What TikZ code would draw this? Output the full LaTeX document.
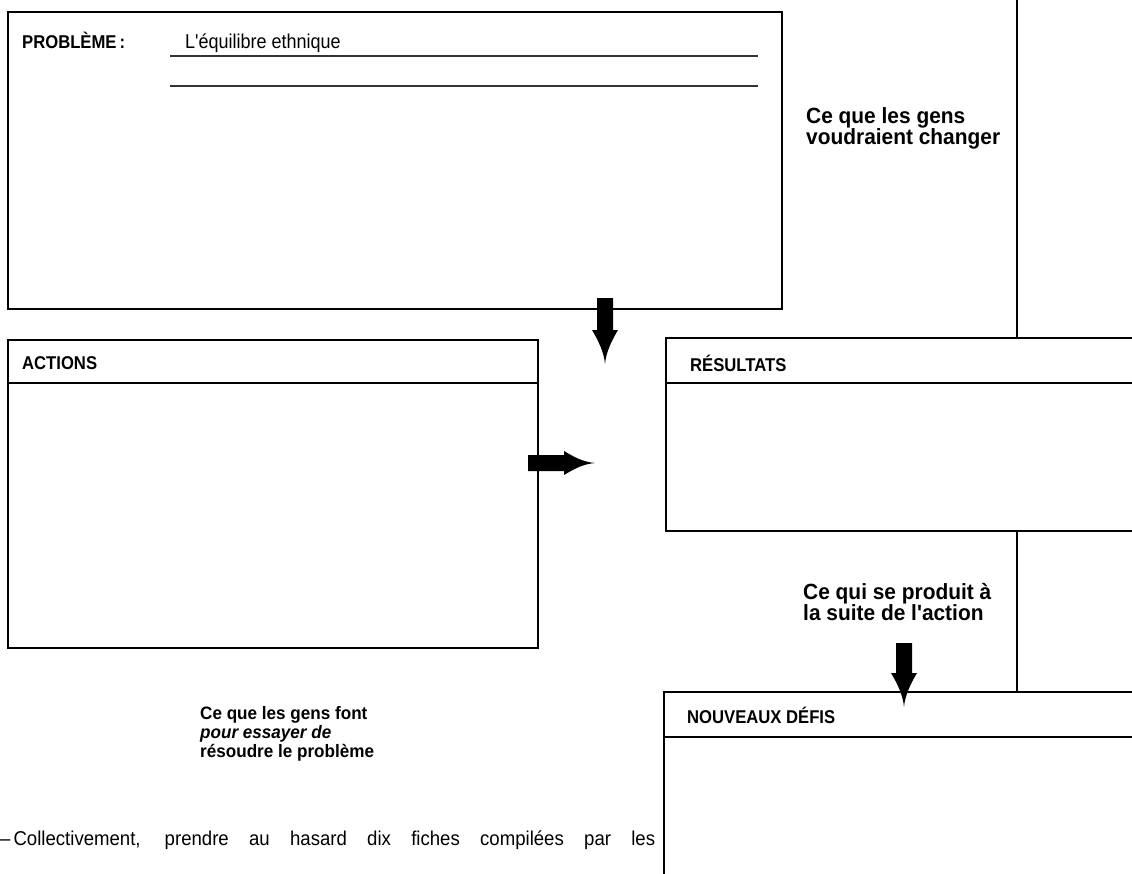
\documentclass[tikz,border=0pt]{standalone}
\usepackage{fontspec}
\setmainfont{Liberation Sans}
\newfontfamily\cond[FakeStretch=0.9]{Liberation Sans}
\newfontfamily\condn[FakeStretch=0.95]{Liberation Sans}
\newfontfamily\condb[FakeStretch=0.93]{Liberation Sans}
\begin{document}
\begin{tikzpicture}[x=1pt,y=-1pt,
  box/.style={draw=black, line width=2.8pt, rectangle, inner sep=0pt, outer sep=0pt, anchor=north west},
  hrule/.style={line width=2pt},
  thinrule/.style={line width=1.3pt, draw=black!80},
  vline/.style={line width=1.3pt},
  hdr/.style={font=\cond\bfseries\fontsize{18.5}{20}\selectfont, anchor=base west, inner sep=0pt},
  fillin/.style={font=\cond\fontsize{20}{22}\selectfont, anchor=base west, inner sep=0pt},
  note/.style={font=\condn\bfseries\fontsize{22}{21.5}\selectfont, anchor=north west, inner sep=0pt, align=left},
  smallnote/.style={font=\condn\bfseries\fontsize{18}{19}\selectfont, anchor=north west, inner sep=0pt, align=left},
  body/.style={font=\condb\fontsize{20}{22}\selectfont, anchor=base west, inner sep=0pt},
  blockarrow/.style={fill=black, draw=none}]
\useasboundingbox (0,0) rectangle (1132,873);
\clip (0,0) rectangle (1132,873);

% boxes
\node[box, minimum width=774pt, minimum height=297pt] (prob) at (8,12) {};
\node[box, minimum width=530pt, minimum height=308pt] (actions) at (8,340) {};
\node[box, minimum width=490pt, minimum height=193pt] (results) at (666,338) {};
\node[box, minimum width=490pt, minimum height=230pt] (defis) at (664,692) {};

% header dividers
\draw[hrule] (actions.north west) ++(0,43) coordinate (ah) -- (ah -| actions.east);
\draw[hrule] (results.north west) ++(0,45) coordinate (rh) -- (rh -| results.east);
\draw[hrule] (defis.north west) ++(0,45) coordinate (dh) -- (dh -| defis.east);

% problem lines
\coordinate (pl1) at (170,56);
\coordinate (pl2) at (170,86);
\draw[thinrule] (pl1) -- ++(588,0);
\draw[thinrule] (pl2) -- ++(588,0);

% vertical thin line
\coordinate (vtop) at (1017,0);
\draw[vline] (vtop) -- (vtop |- results.north);
\draw[vline] (vtop |- results.south) -- (vtop |- defis.north);

% labels
\node[hdr] (lprob) at (22,48) {PROBLÈME\kern3pt:};
\node[fillin] (lequi) at (185,48) {L'équilibre ethnique};
\node[hdr] (lact) at (22,369) {ACTIONS};
\node[hdr] (lres) at (690,371) {RÉSULTATS};
\node[hdr] (ldef) at (687,723) {NOUVEAUX DÉFIS};

% notes
\node[note] (n1) at (806,107) {Ce que les gens\\voudraient changer};
\node[note] (n2) at (803,583) {Ce qui se produit à\\la suite de l'action};
\node[smallnote] (n3) at (200,706) {Ce que les gens font\\\itshape pour essayer de\\résoudre le problème};

% body text
\node[body] (btext) at (0,845) {\makebox[655pt][s]{–\kern3pt Collectivement, prendre au hasard dix fiches compilées par les}};

% block arrows
\fill[blockarrow] (prob.south -| 605,0) ++(-8,-11) -- ++(16,0) -- ++(0,32) -- ++(5,0)
   .. controls ++(-6,10) and ++(1,-12) .. ++(-13,34) .. controls ++(-1,-12) and ++(6,10) .. ++(-13,-34) -- ++(5,0) -- cycle;
\fill[blockarrow] (actions.east |- 0,463) ++(-10,-8) -- ++(36,0) -- ++(0,-4)
   .. controls ++(10,6) and ++(-12,-1) .. ++(31,12) .. controls ++(-12,1) and ++(10,-6) .. ++(-31,12) -- ++(0,-4) -- ++(-36,0) -- cycle;
\fill[blockarrow] (defis.north -| 904,0) ++(-8,-49) -- ++(16,0) -- ++(0,30) -- ++(5,0)
   .. controls ++(-6,10) and ++(1,-12) .. ++(-13,34) .. controls ++(-1,-12) and ++(6,10) .. ++(-13,-34) -- ++(5,0) -- cycle;
\end{tikzpicture}
\end{document}
